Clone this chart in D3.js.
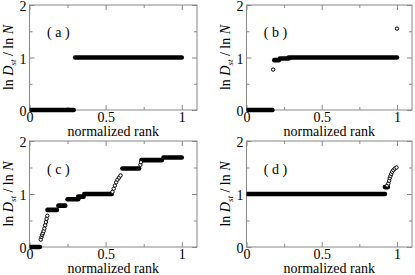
<!DOCTYPE html>
<html>
<head>
<meta charset="utf-8">
<script src="https://cdn.jsdelivr.net/npm/d3@7"></script>
<style>
  body { margin: 0; background: #fff; }
</style>
</head>
<body>
<div id="chart"></div>
<script>
let w = 415, h = 275;
const serif = "'Liberation Serif', 'Times New Roman', serif";

// panel labels and tick values
const panelNames = ["( a )", "( b )", "( c )", "( d )"];
const xMajor = [0, 0.5, 1];
const xMinor = [0.25, 0.75];
const yMajor = [0, 1, 2];
const yMinor = [0.5, 1.5];

// dense runs of points: [rank from, rank to, value]
const runsA = [[0, 0.29, 0], [0.3, 1, 1]];
const runsB = [[0, 0.172, 0], [0.185, 0.215, 0.95], [0.222, 0.28, 0.98], [0.28, 1, 1]];
const runsC = [[0, 0.068, 0], [0.118, 0.18, 0.7], [0.19, 0.235, 0.78], [0.25, 0.32, 0.9],
               [0.32, 0.355, 0.95], [0.36, 0.54, 1.0], [0.61, 0.72, 1.48], [0.735, 0.87, 1.64],
               [0.88, 1, 1.69]];
const runsD = [[0, 0.92, 1.0], [0.92, 0.94, 1.13]];

// single points: [rank, value]
const ptsA = [];
const ptsB = [[0.177, 0.77], [1.0, 1.55]];
const ptsC = [[0.074, 0.14], [0.079, 0.19], [0.083, 0.23], [0.088, 0.26], [0.093, 0.3],
              [0.098, 0.35], [0.103, 0.41], [0.108, 0.47], [0.112, 0.53], [0.117, 0.59],
              [0.545, 1.04], [0.553, 1.1], [0.561, 1.16], [0.569, 1.22], [0.578, 1.27],
              [0.588, 1.31], [0.598, 1.35], [0.728, 1.55], [0.732, 1.6]];
const ptsD = [[0.935, 1.16], [0.943, 1.2], [0.948, 1.25], [0.952, 1.3], [0.957, 1.34],
              [0.962, 1.38], [0.968, 1.42], [0.976, 1.45], [0.986, 1.48], [0.997, 1.5]];

const runs = [runsA, runsB, runsC, runsD];
const pts = [ptsA, ptsB, ptsC, ptsD];

// frame boxes [left, top, right, bottom]
const boxes = [[29.5, 5, 197, 110], [246.5, 5, 412, 110], [29.5, 141, 197, 247], [246.5, 141, 412, 247]];

let svg = d3.select("#chart").append("svg")
    .attr("width", w).attr("height", h)
    .style("font-family", serif);

const frameColor = "#888";

boxes.forEach(function(b, i) {
    let pw = b[2] - b[0], ph = b[3] - b[1];
    let g = svg.append("g").attr("transform", `translate(${b[0]},${b[1]})`);

    let x = d3.scaleLinear().domain([0, 1.1]).range([0, pw]);
    let y = d3.scaleLinear().domain([0, 2]).range([ph, 0]);

    // clip only left/right
    g.append("clipPath").attr("id", "clip" + i)
        .append("rect").attr("y", -10).attr("width", pw).attr("height", ph + 20);

    // axes, ticks inward
    function styleAxis(sel, labels) {
        sel.attr("font-family", null).attr("font-size", null);
        sel.select(".domain").remove();
        sel.selectAll(".tick line").attr("stroke", frameColor);
        sel.selectAll("text").attr("fill", "#000")
            .style("font-family", serif).style("font-size", "14px");
        if (!labels) sel.selectAll("text").remove();
    }
    g.append("g").attr("transform", `translate(0,${ph})`)
        .call(d3.axisBottom(x).tickValues(xMajor).tickFormat(d3.format("")).tickSize(-5).tickPadding(2))
        .call(s => styleAxis(s, true));
    g.append("g").attr("transform", `translate(0,${ph})`)
        .call(d3.axisBottom(x).tickValues(xMinor).tickSize(-3))
        .call(s => styleAxis(s, false));
    g.append("g")
        .call(d3.axisTop(x).tickValues(xMajor).tickSize(-5))
        .call(s => styleAxis(s, false));
    g.append("g")
        .call(d3.axisTop(x).tickValues(xMinor).tickSize(-3))
        .call(s => styleAxis(s, false));
    g.append("g")
        .call(d3.axisLeft(y).tickValues(yMajor).tickFormat(d3.format("d")).tickSize(-5).tickPadding(3))
        .call(s => styleAxis(s, true))
        .selectAll("text").attr("dy", "0.42em");
    g.append("g")
        .call(d3.axisLeft(y).tickValues(yMinor).tickSize(-3))
        .call(s => styleAxis(s, false));
    g.append("g").attr("transform", `translate(${pw},0)`)
        .call(d3.axisRight(y).tickValues(yMajor).tickSize(-5))
        .call(s => styleAxis(s, false));
    g.append("g").attr("transform", `translate(${pw},0)`)
        .call(d3.axisRight(y).tickValues(yMinor).tickSize(-3))
        .call(s => styleAxis(s, false));

    g.append("rect").attr("width", pw).attr("height", ph)
        .attr("fill", "none").attr("stroke", frameColor).attr("stroke-width", 1);

    let data = g.append("g").attr("clip-path", `url(#clip${i})`);

    data.selectAll("line.run")
        .data(runs[i])
        .enter()
        .append("line")
        .attr("class", "run")
        .attr("x1", d => x(d[0])).attr("x2", d => x(d[1]))
        .attr("y1", d => y(d[2])).attr("y2", d => y(d[2]))
        .attr("stroke", "#000").attr("stroke-width", 4.6)
        .attr("stroke-linecap", "round");

    data.selectAll("circle")
        .data(pts[i])
        .enter()
        .append("circle")
        .attr("cx", d => x(d[0])).attr("cy", d => y(d[1]))
        .attr("r", 1.7)
        .attr("fill", "#fff").attr("stroke", "#000").attr("stroke-width", 1);

    // panel label
    g.append("text")
        .attr("x", x(0.115)).attr("y", y(1.48) + 5)
        .style("font-size", "14px")
        .attr("xml:space", "preserve")
        .text(panelNames[i]);

    // x label, centred on the frame
    g.append("text")
        .attr("x", pw / 2).attr("y", ph + 26)
        .attr("text-anchor", "middle")
        .style("font-size", "14px")
        .text("normalized rank");

    // y label
    let yl = g.append("text")
        .attr("transform", `translate(-17,${ph / 2}) rotate(-90)`)
        .attr("text-anchor", "middle")
        .style("font-size", "14px");
    yl.append("tspan").text("ln ");
    yl.append("tspan").style("font-style", "italic").text("D");
    yl.append("tspan").style("font-style", "italic").style("font-size", "9px").attr("dy", 3).text("st");
    yl.append("tspan").attr("dy", -3).text(" / ln ");
    yl.append("tspan").style("font-style", "italic").text("N");
});
</script>
</body>
</html>
